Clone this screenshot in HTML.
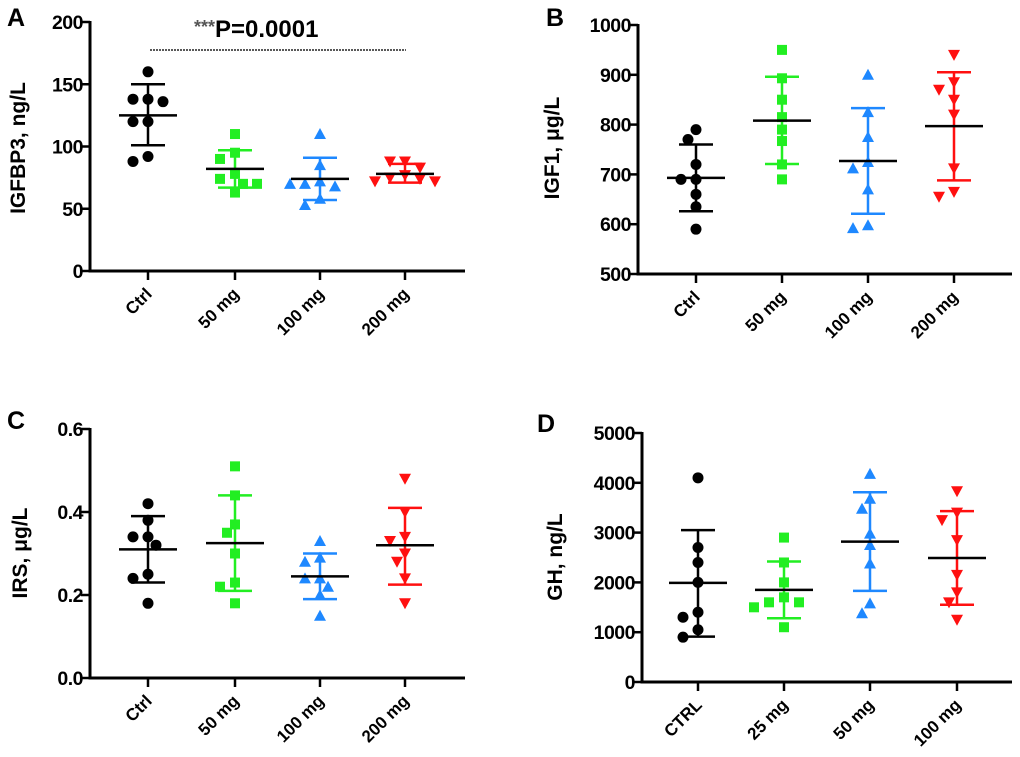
<!DOCTYPE html>
<html><head><meta charset="utf-8"><style>
body{margin:0;background:#fff}
svg{display:block;font-family:"Liberation Sans",Arial,sans-serif}
</style></head><body>
<svg id="fig" width="1020" height="757" viewBox="0 0 1020 757"></svg>
<script>
// ---------- data ----------
const catsABC = ["Ctrl","50 mg","100 mg","200 mg"];
const catsD = ["CTRL","25 mg","50 mg","100 mg"];
const colors = ["#000000","#22ee22","#1e88ff","#ff1010"];

const igfbp3Values = [[160,138,138,136,120,120,92,88],[110,95,90,78,74,70,70,63],[110,85,72,70,68,70,58,53],[88,88,83,77,75,74,72,72]];
const igfbp3Mean = [125,82,74,78];
const igfbp3Hi = [150,97,91,86];
const igfbp3Lo = [101,67,57,71];
const igfbp3Ticks = [0,50,100,150,200];

const igf1Values = [[790,770,720,690,690,660,635,590],[950,893,850,815,790,767,720,690],[900,825,775,725,712,670,598,592],[940,885,870,850,820,712,665,655]];
const igf1Mean = [693,808,727,797];
const igf1Hi = [760,896,833,905];
const igf1Lo = [626,721,621,688];
const igf1Ticks = [500,600,700,800,900,1000];

const irsValues = [[0.42,0.38,0.34,0.34,0.32,0.25,0.24,0.18],[0.51,0.44,0.37,0.35,0.30,0.23,0.22,0.18],[0.33,0.29,0.28,0.24,0.24,0.22,0.20,0.15],[0.48,0.40,0.34,0.33,0.30,0.28,0.24,0.18]];
const irsMean = [0.31,0.325,0.245,0.32];
const irsHi = [0.39,0.44,0.30,0.41];
const irsLo = [0.23,0.21,0.19,0.225];
const irsTicks = [0.0,0.2,0.4,0.6];
const irsTickLabels = ["0.0","0.2","0.4","0.6"];

const ghValues = [[4100,2700,2400,2000,1400,1300,1050,900],[2900,2400,2000,1700,1600,1600,1500,1100],[4180,3680,3480,2980,2750,2380,1580,1380],[3830,3400,3250,2850,2150,1800,1600,1250]];
const ghMean = [1990,1850,2820,2490];
const ghHi = [3050,2420,3810,3430];
const ghLo = [910,1280,1830,1550];
const ghTicks = [0,1000,2000,3000,4000,5000];

// ---------- drawing ----------
const NS="http://www.w3.org/2000/svg";
const svg=document.getElementById('fig');
function mk(tag,attrs,parent){const e=document.createElementNS(NS,tag);for(const k in attrs)e.setAttribute(k,attrs[k]);(parent||svg).appendChild(e);return e;}

function panel(p){
  const g=mk('g',{});
  
  
  const ymin=p.ticks[0], ymax=p.ticks[p.ticks.length-1];
  const y=v=>p.y0-(v-ymin)/(ymax-ymin)*(p.y0-p.y1);
  const cx=i=>p.xs[i];
  const ya=mk('line',{x1:p.ax,y1:p.y1-1,x2:p.ax,y2:p.y0+1.5,stroke:'#000','stroke-width':3},g);
  
  
  const xa=mk('line',{x1:p.ax-1.5,y1:p.y0,x2:p.xend,y2:p.y0,stroke:'#000','stroke-width':3},g);
  
  
  p.ticks.forEach((t,i)=>{
    mk('line',{x1:p.ax-9,y1:y(t),x2:p.ax,y2:y(t),stroke:'#000','stroke-width':2.5},g);
    const tl=mk('text',{x:p.ax-7,y:y(t)+7,'text-anchor':'end','font-size':19.5,'font-weight':'bold','letter-spacing':-0.5},g);
    tl.textContent=p.tickLabels?p.tickLabels[i]:String(t);
    
    
  });
  p.cats.forEach((c,i)=>{
    mk('line',{x1:cx(i),y1:p.y0,x2:cx(i),y2:p.y0+9,stroke:'#000','stroke-width':2.5},g);
    const tx=cx(i)+5, ty=p.y0+24;
    const xl=mk('text',{x:tx,y:ty,'text-anchor':'end','font-size':17,'font-weight':'bold',transform:`rotate(-45 ${tx} ${ty})`},g);
    xl.textContent=c;
    
    
  });
  const yt=mk('text',{x:p.titleX,y:p.titleY,'text-anchor':'middle','font-size':21,'font-weight':'bold',transform:`rotate(-90 ${p.titleX} ${p.titleY})`},g);
  yt.textContent=p.title;
  
  
  const lt=mk('text',{x:p.letterX,y:p.letterY,'font-size':25,'font-weight':'bold'},g);
  lt.textContent=p.letter;
  
  
  p.values.forEach((vals,i)=>{
    const col=colors[i];
    const sg=mk('g',{},g);
    
    
    mk('line',{x1:cx(i),y1:y(p.hi[i]),x2:cx(i),y2:y(p.lo[i]),stroke:col,'stroke-width':2.5},sg);
    mk('line',{x1:cx(i)-17,y1:y(p.hi[i]),x2:cx(i)+17,y2:y(p.hi[i]),stroke:col,'stroke-width':2.5},sg);
    mk('line',{x1:cx(i)-17,y1:y(p.lo[i]),x2:cx(i)+17,y2:y(p.lo[i]),stroke:col,'stroke-width':2.5},sg);
    const placed=[];
    vals.forEach(v=>{
      const py=y(v);
      const offs=[0,-8,8,-15,15,-22,22,-30,30];
      let ox=0;
      for(const o of offs){
        if(!placed.some(q=>Math.hypot(q[0]-o,q[1]-py)<11)){ox=o;break;}
      }
      placed.push([ox,py]);
      const px=cx(i)+ox;
      let m;
      if(i===0) m=mk('circle',{cx:px,cy:py,r:5.5,fill:col},sg);
      else if(i===1) m=mk('rect',{x:px-5,y:py-5,width:10,height:10,fill:col},sg);
      else if(i===2) m=mk('polygon',{points:`${px},${py-6} ${px-6},${py+5} ${px+6},${py+5}`,fill:col},sg);
      else m=mk('polygon',{points:`${px},${py+6} ${px-6},${py-5} ${px+6},${py-5}`,fill:col},sg);
      
      
    });
    const ml=mk('line',{x1:cx(i)-29,y1:y(p.mean[i]),x2:cx(i)+29,y2:y(p.mean[i]),stroke:'#000','stroke-width':2.5},sg);
    
    
  });
  return {g,y};
}

panel({name:'panel-a-igfbp3',letter:'A',letterX:7,letterY:26,title:'IGFBP3, ng/L',titleX:25,titleY:148,
  ax:90,y0:271,y1:22,xend:465,xs:[148,235,320,405],cats:catsABC,ticks:igfbp3Ticks,
  values:igfbp3Values,mean:igfbp3Mean,hi:igfbp3Hi,lo:igfbp3Lo});
panel({name:'panel-b-igf1',letter:'B',letterX:546,letterY:26,title:'IGF1, μg/L',titleX:559,titleY:148,
  ax:638,y0:274,y1:25,xend:1012,xs:[696,782,868,954],cats:catsABC,ticks:igf1Ticks,
  values:igf1Values,mean:igf1Mean,hi:igf1Hi,lo:igf1Lo});
panel({name:'panel-c-irs',letter:'C',letterX:7,letterY:429,title:'IRS, μg/L',titleX:27,titleY:553,
  ax:90,y0:678,y1:429,xend:465,xs:[148,235,320,405],cats:catsABC,ticks:irsTicks,tickLabels:irsTickLabels,
  values:irsValues,mean:irsMean,hi:irsHi,lo:irsLo});
panel({name:'panel-d-gh',letter:'D',letterX:537,letterY:432,title:'GH, ng/L',titleX:562,titleY:557,
  ax:642,y0:682,y1:433,xend:1012,xs:[698,784,870,957],cats:catsD,ticks:ghTicks,
  values:ghValues,mean:ghMean,hi:ghHi,lo:ghLo});

const sl=mk('line',{x1:150,y1:50,x2:406,y2:50,stroke:'#222','stroke-width':1.5,'stroke-dasharray':'2 1'});


const st=mk('text',{x:194,y:37,'font-size':24,'font-weight':'bold'});
st.innerHTML='<tspan font-size="18" fill="#555" dy="-4">***</tspan><tspan dy="4">P=0.0001</tspan>';


</script>
</body></html>
